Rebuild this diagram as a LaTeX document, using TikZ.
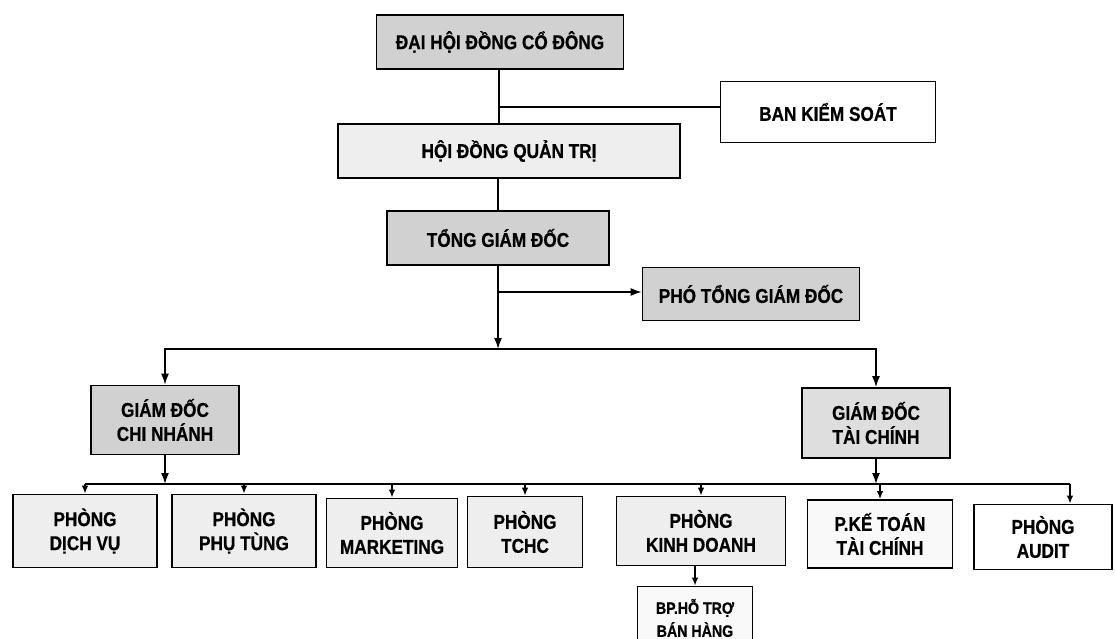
\documentclass[tikz,border=0pt]{standalone}
\usepackage{fontspec}
\setmainfont{Liberation Sans}[FakeStretch=0.86,BoldFeatures={FakeBold=0.6}]
\usepackage{tikz}
\usetikzlibrary{positioning,arrows.meta}

\begin{document}
\begin{tikzpicture}[x=1pt,y=-1pt,line width=1.6pt,
	big/.style={-{Latex[length=11pt,width=8pt]}},
	small/.style={-{Latex[length=8pt,width=6.5pt]}}]
	\tikzstyle{every node}+=[draw=black,align=center,inner sep=0pt,font=\fontsize{20}{24}\selectfont\bfseries]
	\tikzstyle{dark}=[fill=gray!36]
	\tikzstyle{mid}=[fill=gray!26]
	\tikzstyle{light}=[fill=gray!13]
	\tikzstyle{blank}=[fill=white]
	\useasboundingbox (0,0) rectangle (1115,639);
	\node [dark,minimum width=247pt,minimum height=54pt] (dhcd) at (500,42) {ĐẠI HỘI ĐỒNG CỔ ĐÔNG};
	\node [blank,minimum width=215pt,minimum height=61pt] (bks) at (828,112) {BAN KIỂM SOÁT};
	\node [light,minimum width=342pt,minimum height=54pt] (hdqt) at (509,151) {HỘI ĐỒNG QUẢN TRỊ};
	\node [dark,minimum width=222pt,minimum height=54pt] (tgd) at (498,238) {TỔNG GIÁM ĐỐC};
	\node [dark,minimum width=217pt,minimum height=53pt] (ptgd) at (751,294) {PHÓ TỔNG GIÁM ĐỐC};
	\node [dark,minimum width=148pt,minimum height=69pt] (gdcn) at (165,420) {GIÁM ĐỐC\\CHI NHÁNH};
	\node [mid,minimum width=148pt,minimum height=70pt] (gdtc) at (876,423) {GIÁM ĐỐC\\TÀI CHÍNH};
	\node [light,minimum width=144pt,minimum height=73pt] (dv) at (85,531) {PHÒNG\\DỊCH VỤ};
	\node [light,minimum width=144pt,minimum height=73pt] (pt) at (244,531) {PHÒNG\\PHỤ TÙNG};
	\node [light,minimum width=131pt,minimum height=69pt] (mkt) at (392,533) {PHÒNG\\MARKETING};
	\node [light,minimum width=115pt,minimum height=71pt] (tchc) at (525,532) {PHÒNG\\TCHC};
	\node [light,minimum width=169pt,minimum height=69pt] (kd) at (701,531) {PHÒNG\\KINH DOANH};
	\node [fill=gray!5,minimum width=145pt,minimum height=68pt] (kt) at (880,534) {P.KẾ TOÁN\\TÀI CHÍNH};
	\node [blank,minimum width=138pt,minimum height=65pt] (audit) at (1043,537) {PHÒNG\\AUDIT};
	\node [fill=gray!5,minimum width=115pt,minimum height=63pt,font=\fontsize{16.5}{23}\selectfont\bfseries] (bp) at (695,618) {BP.HỖ TRỢ\\BÁN HÀNG};
	\coordinate (jb) at (499,107);
	\coordinate (jp) at (498,292);
	\coordinate (bus) at (498,349);
	\coordinate (lbus) at (165,484);
	\coordinate (rbus) at (876,484);
	\coordinate (au) at (1070,484);
	\draw (dhcd.south -| jb) -- (jb |- hdqt.north);
	\draw (jb) -- (jb -| bks.west);
	\draw (tgd.north |- hdqt.south) -- (tgd.north);
	\draw [big] (tgd.south) -- (bus);
	\draw [big] (jp) -- (jp -| ptgd.west);
	\draw [big] (bus) -| (gdcn.north);
	\draw [big] (bus) -| (gdtc.north);
	\draw [big] (gdcn.south) -- (lbus);
	\draw [big] (gdtc.south) -- (rbus);
	\draw (lbus -| dv.north) -- (au);
	\foreach \d in {dv,pt,mkt,tchc,kd,kt}
		\draw [small] (lbus -| \d.north) -- (\d.north);
	\draw [small] (au) -- (au |- audit.north);
	\draw [small] (bp.north |- kd.south) -- (bp.north);
\end{tikzpicture}
\end{document}
